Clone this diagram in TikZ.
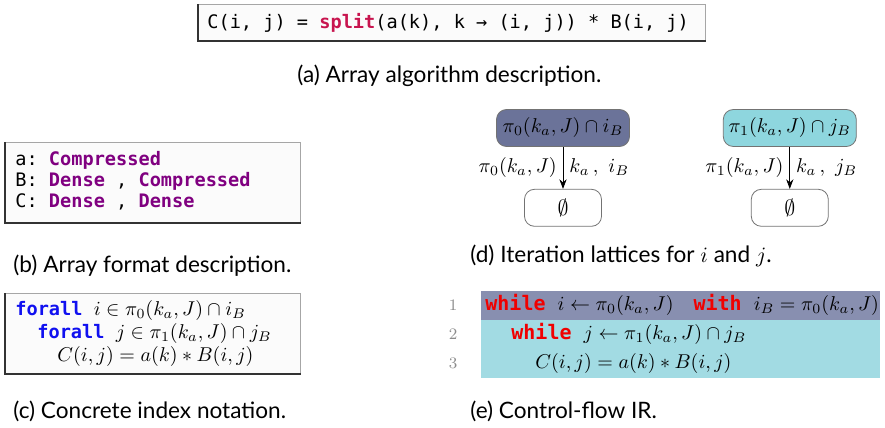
\documentclass[tikz,border=0pt]{standalone}
\usepackage{fontspec}
\newfontfamily\capfont{Lato}
\setmonofont{DejaVu Sans Mono}
\usetikzlibrary{arrows.meta,positioning}

\definecolor{latA}{HTML}{6B7399}
\definecolor{latB}{HTML}{8ED6DE}
\definecolor{bandA}{HTML}{888FB0}
\definecolor{bandB}{HTML}{A2DBE3}
\definecolor{kwsplit}{HTML}{C8154F}
\definecolor{kwfmt}{HTML}{800080}
\definecolor{kwall}{HTML}{1010F0}
\definecolor{kwloop}{HTML}{F00000}
\definecolor{codebg}{HTML}{FBFBFB}

\newcommand{\kwsp}[1]{\textbf{\color{kwsplit}#1}}
\newcommand{\kwfm}[1]{\textbf{\color{kwfmt}#1}}
\newcommand{\kwal}[1]{\textbf{\color{kwall}#1}}
\newcommand{\kwlp}[1]{\textbf{\color{kwloop}#1}}
\newcommand{\cm}[1]{{\fontsize{9.7}{12}\selectfont$#1$}}

\begin{document}
\begin{tikzpicture}[x=0.5pt, y=-0.5pt, >=Stealth,
  codebox/.style={draw=black!35, line width=0.4pt, fill=codebg, anchor=north west, inner sep=0pt},
  boxedge/.style={black!80, line width=0.9pt},
  code/.style={anchor=base west, inner sep=0pt, font=\fontsize{9.3}{11}\ttfamily},
  ircode/.style={anchor=base west, inner sep=0pt, font=\fontsize{10}{12}\ttfamily},
  lnum/.style={anchor=base, inner sep=0pt, font=\fontsize{8}{9}\selectfont, text=black!45},
  subcap/.style={anchor=base west, inner sep=0pt, font=\fontsize{11.3}{13}\capfont},
  lat/.style={draw=black!55, rounded corners=5pt, inner xsep=2pt, minimum width=66.5pt, minimum height=18.5pt, font=\fontsize{10}{12}\selectfont},
  bot/.style={draw=black!55, rounded corners=5pt, minimum width=38.5pt, minimum height=18.5pt, font=\fontsize{10.5}{12}\selectfont},
  lbl/.style={font=\fontsize{10}{12}\selectfont, inner sep=3pt}]
  \useasboundingbox (0,0) rectangle (885,428);

  % (a) algorithm
  \node[codebox, minimum width=253.5pt, minimum height=18pt] (boxa) at (198,4) {};
  \draw[boxedge] (boxa.north west) -- (boxa.south west) -- (boxa.south east);
  \node[code] (alg) at (207,28) {C(i, j) = \kwsp{split}(a(k), k → (i, j)) * B(i, j)};
  \node[subcap] (capa) at (297,83) {(a) Array algorithm description.};

  % (b) formats
  \node[codebox, minimum width=147.5pt, minimum height=40pt] (boxb) at (5,142) {};
  \draw[boxedge] (boxb.north west) -- (boxb.south west) -- (boxb.south east);
  \node[code] (fa) at (15,165) {a: \kwfm{Compressed}};
  \node[code] (fb) at (15,186) {B: \kwfm{Dense} , \kwfm{Compressed}};
  \node[code] (fc) at (15,207) {C: \kwfm{Dense} , \kwfm{Dense}};
  \node[subcap] (capb) at (13,272) {(b) Array format description.};

  % (c) concrete index notation
  \node[codebox, minimum width=147.5pt, minimum height=40pt] (boxc) at (5,293) {};
  \draw[boxedge] (boxc.north west) -- (boxc.south west) -- (boxc.south east);
  \node[code] (ca) at (15,315) {\kwal{forall} \cm{i \in \pi_0(k_a,J) \cap i_B}};
  \node[code] (cb) at (37,338) {\kwal{forall} \cm{j \in \pi_1(k_a,J) \cap j_B}};
  \node[code] (cc) at (57,361) {\cm{C(i,j) = a(k) * B(i,j)}};
  \node[subcap] (capc) at (13,418) {(c) Concrete index notation.};

  % (d) iteration lattices
  \node[lat, fill=latA] (li) at (563,128) {$\pi_0(k_a,J) \cap i_B$};
  \node[bot, below=21pt of li] (ei) {$\emptyset$};
  \draw[->] (li) -- (ei)
    node[midway, left, lbl] {$\pi_0(k_a,J)$}
    node[midway, right, lbl] {$k_a\,,\ i_B$};
  \node[lat, fill=latB, right=46.5pt of li] (lj) {$\pi_1(k_a,J) \cap j_B$};
  \node[bot, below=21pt of lj] (ej) {$\emptyset$};
  \draw[->] (lj) -- (ej)
    node[midway, left, lbl] {$\pi_1(k_a,J)$}
    node[midway, right, lbl] {$k_a\,,\ j_B$};
  \node[subcap] (capd) at (470,262) {(d) Iteration lattices for $i$ and $j$.};

  % (e) control-flow IR
  \fill[bandA] (481,291) rectangle (880,320);
  \fill[bandB] (481,320) rectangle (880,378);
  \node[lnum] (n1) at (453,310) {1};
  \node[lnum] (n2) at (453,339) {2};
  \node[lnum] (n3) at (453,368) {3};
  \node[ircode] (ea) at (485,310) {\kwlp{while} $i \leftarrow \pi_0(k_a,J)$\hspace{10pt}\kwlp{with} $i_B = \pi_0(k_a,J)$};
  \node[ircode] (eb) at (511,339) {\kwlp{while} $j \leftarrow \pi_1(k_a,J) \cap j_B$};
  \node[ircode] (ec) at (535,368) {$C(i,j) = a(k) * B(i,j)$};
  \node[subcap] (cape) at (470,418) {(e) Control-flow IR.};
\end{tikzpicture}
\end{document}
